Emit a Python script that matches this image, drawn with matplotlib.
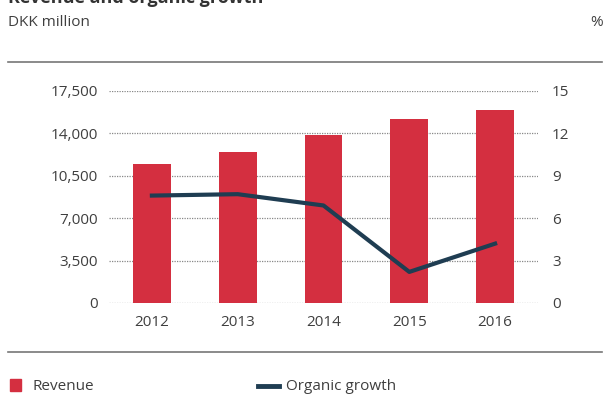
import numpy as np
import matplotlib.pyplot as plt
from matplotlib.lines import Line2D
from matplotlib.patches import Rectangle

years = ['2012', '2013', '2014', '2015', '2016']
revenue = [11450, 12500, 13900, 15150, 15900]
organic_growth = [7.6, 7.7, 6.9, 2.2, 4.2]
left_ticks = [0, 3500, 7000, 10500, 14000, 17500]
right_ticks = [0, 3, 6, 9, 12, 15]

red = '#d42f40'
navy = '#1f3d52'
grey = '#3f3f3f'

plt.rcParams['font.family'] = ['Open Sans', 'DejaVu Sans']

fig = plt.figure(figsize=(6.1, 3.95), dpi=100)
ax = fig.add_axes([109 / 610, 1 - 303 / 395, 429 / 610, 212 / 395])
x = np.arange(len(years))
ax.bar(x, revenue, width=0.44, color=red, zorder=2)
ax.set_xlim(-0.5, 4.5)
ax.set_ylim(0, 17500)
ax.set_yticks(left_ticks)
ax.set_yticklabels(['{:,}'.format(v) for v in left_ticks])
ax.set_xticks(x)
ax.set_xticklabels(years)
# dotted grid
for v in left_ticks:
    ax.axhline(v, color='#888888', lw=0.9, ls=(0, (1, 1)), zorder=1)
for s in ax.spines.values():
    s.set_visible(False)
ax.tick_params(length=0, labelsize=11, colors=grey)
ax.tick_params(axis='y', pad=8)
ax.tick_params(axis='x', pad=9)

ax2 = ax.twinx()
ax2.plot(x, organic_growth, color=navy, lw=3, zorder=3)
ax2.set_ylim(0, 15)
ax2.set_yticks(right_ticks)
for s in ax2.spines.values():
    s.set_visible(False)
ax2.tick_params(length=0, labelsize=11, colors=grey, pad=10)

# title is cropped at the top edge in the original
fig.text(8 / 610, 1.005, 'Revenue and organic growth', fontsize=13,
         fontweight='bold', color='#333333', va='center')
fig.text(8 / 610, 1 - 23 / 395, 'DKK million', fontsize=11, color=grey, va='center')
fig.text(603 / 610, 1 - 23 / 395, '%', fontsize=11, color=grey, va='center', ha='right')

fig.add_artist(Line2D([8 / 610, 602 / 610], [1 - 62 / 395] * 2, color='#777777', lw=1.2))
fig.add_artist(Line2D([8 / 610, 602 / 610], [1 - 352 / 395] * 2, color='#777777', lw=1.2))

# legend
fig.add_artist(Rectangle((10 / 610, 1 - 391 / 395), 11 / 610, 12 / 395, color=red))
fig.text(33 / 610, 1 - 386 / 395, 'Revenue', fontsize=11, color=grey, va='center')
fig.add_artist(Line2D([258 / 610, 279 / 610], [1 - 386 / 395] * 2, color=navy, lw=3.5))
fig.text(286 / 610, 1 - 386 / 395, 'Organic growth', fontsize=11, color=grey, va='center')

fig.savefig('out.png', dpi=100)
